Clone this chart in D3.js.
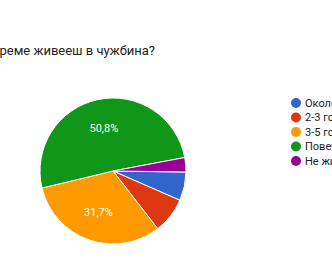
<!DOCTYPE html>
<html>
<head>
<meta charset="utf-8">
<script src="https://cdn.jsdelivr.net/npm/d3@7"></script>
<style>
  html, body { margin: 0; padding: 0; background: #fff; overflow: hidden; }
  svg { display: block; font-family: Roboto, Arial, sans-serif; }
</style>
</head>
<body>
<div id="chart"></div>
<script>
  // Answers (legend order) and response counts
  var categories = ["Около година", "2-3 години", "3-5 години", "Повече от 5 години", "Не живея в чужбина"];
  var counts = [4, 5, 20, 32, 2];
  var colors = ["#3366cc", "#dc3912", "#ff9900", "#109618", "#990099"];
  var title = "Колко време живееш в чужбина?";

  var width = 332, height = 275;
  var cx = 113, cy = 171, radius = 73;
  var startAngle = 90.8 * Math.PI / 180;  // pie starts a bit past 3 o'clock

  var svg = d3.select("#chart").append("svg")
    .attr("width", width)
    .attr("height", height);

  // Title (cropped on the left in the original)
  svg.append("text")
    .attr("x", 155)
    .attr("y", 55)
    .attr("text-anchor", "end")
    .attr("font-size", 13)
    .attr("fill", "#212121")
    .text(title);

  var total = d3.sum(counts);

  var pie = d3.pie()
    .sort(null)
    .startAngle(startAngle)
    .endAngle(startAngle + 2 * Math.PI);

  var arc = d3.arc().innerRadius(0).outerRadius(radius);
  var labelArc = d3.arc().innerRadius(radius * 0.6).outerRadius(radius * 0.6);

  var g = svg.append("g").attr("transform", `translate(${cx}, ${cy})`);

  g.selectAll("path")
    .data(pie(counts))
    .enter().append("path")
    .attr("d", arc)
    .attr("fill", (d, i) => colors[i])
    .attr("stroke", "#fff")
    .attr("stroke-width", 1);

  // Percent labels only for big slices
  g.selectAll("text.pct")
    .data(pie(counts).filter(d => d.value / total > 0.1))
    .enter().append("text")
    .attr("class", "pct")
    .attr("transform", d => `translate(${labelArc.centroid(d)})`)
    .attr("text-anchor", "middle")
    .attr("dy", "0.35em")
    .attr("font-size", 11)
    .attr("fill", "#fff")
    .text(d => (d.value / total * 100).toFixed(1).replace(".", ",") + "%");

  // Legend
  var legend = svg.append("g").attr("transform", "translate(296, 103)");
  var items = legend.selectAll("g")
    .data(categories)
    .enter().append("g")
    .attr("transform", (d, i) => `translate(0, ${i * 14.5})`);

  items.append("circle")
    .attr("r", 5)
    .attr("fill", (d, i) => colors[i]);

  items.append("text")
    .attr("x", 9)
    .attr("dy", "0.35em")
    .attr("font-size", 11)
    .attr("fill", "#222")
    .text(d => d);
</script>
</body>
</html>
